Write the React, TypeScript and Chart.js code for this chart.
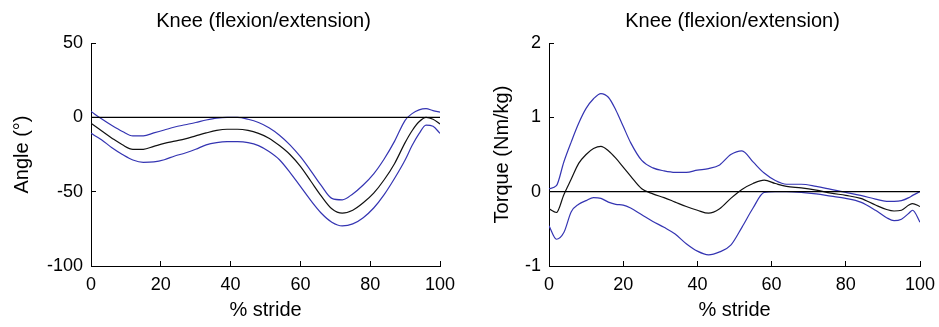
import React, { useEffect, useRef } from "react";
import { Chart, registerables } from "chart.js";

Chart.register(...registerables);

const FONT = '"Liberation Sans", Arial, Helvetica, sans-serif';
const BLUE = "rgb(52,52,178)";
const BLACK = "#000000";

// ---------- Left panel: knee angle ----------
const angleTitle = "Knee (flexion/extension)";
const angleYLabel = "Angle (°)";
const angleYTicks = { min: -100, max: 50, step: 50 };
const angleX = [0, 3, 6, 9, 12, 15, 18, 21, 24, 27, 30, 33, 36, 39, 42, 45, 48, 51, 54, 57, 60, 63, 66, 69, 72, 75, 78, 81, 84, 87, 90, 92, 94, 96, 98, 100];
const angleMean = [-4, -9, -14, -18.5, -21.5, -21.5, -19.5, -17.5, -16, -14.5, -12.5, -10.5, -8.8, -8, -8, -8.8, -10.8, -14, -19, -25, -33, -43, -53, -61.5, -64.5, -62.5, -57.5, -51, -42, -31, -17, -9, -3, 0, -1.3, -4.5];
const angleUpper = [4, -1, -5.5, -9.5, -12.5, -12.5, -10.5, -8.5, -6.5, -5, -3.5, -1.8, -0.5, 0, 0, -1.3, -3.5, -7, -12, -18.5, -26.5, -36, -46, -54.5, -55.5, -51.5, -45.5, -38, -28, -16, -2, 2.5, 5, 5.8, 4.5, 3.5];
const angleLower = [-10.8, -15, -20.5, -25, -28.7, -30.3, -30, -28.5, -26, -24, -21.5, -18.5, -17, -16.4, -16.4, -17, -19, -23, -28.5, -37, -46.5, -56, -64.5, -70.5, -73, -71.7, -67.5, -61, -52, -41, -28.7, -19, -11, -5.2, -6, -10.8];

// ---------- Right panel: knee torque ----------
const torqueTitle = "Knee (flexion/extension)";
const torqueYLabel = "Torque (Nm/kg)";
const torqueYTicks = { min: -1, max: 2, step: 1 };
const torqueX = [0, 2, 4, 6, 8, 10, 12, 14, 16, 18, 20, 22, 25, 28, 31, 34, 37, 40, 43, 46, 49, 52, 55, 58, 61, 64, 68, 72, 76, 80, 84, 88, 91, 93, 95, 97, 98, 100];
const torqueMean = [-0.23, -0.28, -0.04, 0.17, 0.38, 0.5, 0.58, 0.61, 0.55, 0.45, 0.33, 0.21, 0.04, -0.03, -0.08, -0.14, -0.2, -0.25, -0.29, -0.23, -0.09, 0.03, 0.11, 0.155, 0.11, 0.07, 0.05, 0.02, -0.02, -0.05, -0.09, -0.18, -0.24, -0.26, -0.25, -0.18, -0.16, -0.2];
const torqueUpper = [0.04, 0.08, 0.4, 0.67, 0.92, 1.12, 1.25, 1.32, 1.27, 1.1, 0.88, 0.66, 0.42, 0.32, 0.28, 0.26, 0.26, 0.29, 0.31, 0.36, 0.5, 0.55, 0.4, 0.25, 0.15, 0.1, 0.1, 0.07, 0.03, -0.01, -0.05, -0.1, -0.13, -0.13, -0.12, -0.08, -0.05, 0];
const torqueLower = [-0.46, -0.64, -0.55, -0.27, -0.17, -0.12, -0.08, -0.09, -0.14, -0.17, -0.18, -0.22, -0.31, -0.4, -0.48, -0.57, -0.7, -0.8, -0.85, -0.81, -0.72, -0.48, -0.22, -0.01, 0, 0, -0.01, -0.03, -0.06, -0.09, -0.14, -0.25, -0.35, -0.39, -0.37, -0.29, -0.25, -0.41];

// shared
const strideLabel = "% stride";
const xTicks = { min: 0, max: 100, step: 20 };
const zeroX = [0, 100];
const zeroY = [0, 0];

const toPts = (xs: number[], ys: number[]) => xs.map((x, i) => ({ x, y: ys[i] }));

const panelTitlePlugin = {
  id: "panelTitle",
  afterDraw(chart: any, _args: any, opts: any) {
    const { ctx, chartArea } = chart;
    ctx.save();
    ctx.font = `20px ${FONT}`;
    ctx.fillStyle = BLACK;
    ctx.textAlign = "center";
    ctx.textBaseline = "alphabetic";
    ctx.fillText(opts.text, (chartArea.left + chartArea.right) / 2 - 2, 27);
    ctx.restore();
  },
};

type PanelProps = {
  left: number;
  width: number;
  axisWidth: number;
  padRight: number;
  yTitlePad: number;
  title: string;
  yLabel: string;
  yTicks: { min: number; max: number; step: number };
  xs: number[];
  mean: number[];
  upper: number[];
  lower: number[];
};

function Panel(p: PanelProps) {
  const ref = useRef<HTMLCanvasElement | null>(null);
  useEffect(() => {
    if (!ref.current) return;
    const line = (data: any[], color: string, w: number) => ({
      data,
      borderColor: color,
      borderWidth: w,
      pointRadius: 0,
      fill: false,
      cubicInterpolationMode: "monotone" as const,
    });
    const chart = new Chart(ref.current, {
      type: "line",
      data: {
        datasets: [
          { ...line(toPts(zeroX, zeroY), BLACK, 1.2), cubicInterpolationMode: "default" as const, tension: 0 },
          line(toPts(p.xs, p.mean), "#111111", 1.2),
          line(toPts(p.xs, p.upper), BLUE, 1.2),
          line(toPts(p.xs, p.lower), BLUE, 1.2),
        ],
      },
      options: {
        responsive: false,
        animation: false,
        events: [],
        layout: { padding: { top: 43, right: p.padRight, bottom: 0, left: 0 } },
        plugins: {
          legend: { display: false },
          tooltip: { enabled: false },
          // @ts-ignore
          panelTitle: { text: p.title },
        },
        scales: {
          x: {
            type: "linear",
            min: xTicks.min,
            max: xTicks.max,
            ticks: {
              stepSize: xTicks.step,
              padding: 13,
              color: BLACK,
              font: { family: FONT, size: 18 },
              maxRotation: 0,
              autoSkip: false,
            },
            grid: { drawOnChartArea: false, drawTicks: true, tickLength: -5, color: BLACK, lineWidth: 1 },
            border: { color: BLACK, width: 1 },
            title: {
              display: true,
              text: strideLabel,
              color: BLACK,
              font: { family: FONT, size: 20 },
              padding: { top: 0, bottom: 5 },
            },
            afterFit: (s: any) => {
              s.height = 61;
              s.paddingLeft = 0;
              s.paddingRight = 0;
              s.paddingTop = 0;
              s.paddingBottom = 0;
            },
          },
          y: {
            type: "linear",
            min: p.yTicks.min,
            max: p.yTicks.max,
            ticks: {
              stepSize: p.yTicks.step,
              padding: 13,
              color: BLACK,
              font: { family: FONT, size: 18 },
              autoSkip: false,
            },
            grid: { drawOnChartArea: false, drawTicks: true, tickLength: -5, color: BLACK, lineWidth: 1 },
            border: { color: BLACK, width: 1 },
            title: {
              display: true,
              text: p.yLabel,
              color: BLACK,
              font: { family: FONT, size: 20 },
              padding: { top: p.yTitlePad, bottom: 0 },
            },
            afterFit: (s: any) => {
              s.width = p.axisWidth;
              s.paddingLeft = 0;
              s.paddingRight = 0;
              s.paddingTop = 0;
              s.paddingBottom = 0;
            },
          },
        },
      } as any,
      plugins: [panelTitlePlugin],
    });
    return () => chart.destroy();
  }, []);
  return (
    <canvas
      ref={ref}
      width={p.width}
      height={327}
      style={{ position: "absolute", left: p.left, top: 0, width: p.width, height: 327 }}
    />
  );
}

export default function App() {
  return (
    <div style={{ position: "absolute", left: 0, top: 0, width: 939, height: 327, background: "#ffffff", overflow: "hidden" }}>
      <Panel
        left={0}
        width={470}
        axisWidth={91}
        padRight={30}
        yTitlePad={10}
        title={angleTitle}
        yLabel={angleYLabel}
        yTicks={angleYTicks}
        xs={angleX}
        mean={angleMean}
        upper={angleUpper}
        lower={angleLower}
      />
      <Panel
        left={470}
        width={469}
        axisWidth={79}
        padRight={19}
        yTitlePad={20}
        title={torqueTitle}
        yLabel={torqueYLabel}
        yTicks={torqueYTicks}
        xs={torqueX}
        mean={torqueMean}
        upper={torqueUpper}
        lower={torqueLower}
      />
    </div>
  );
}
